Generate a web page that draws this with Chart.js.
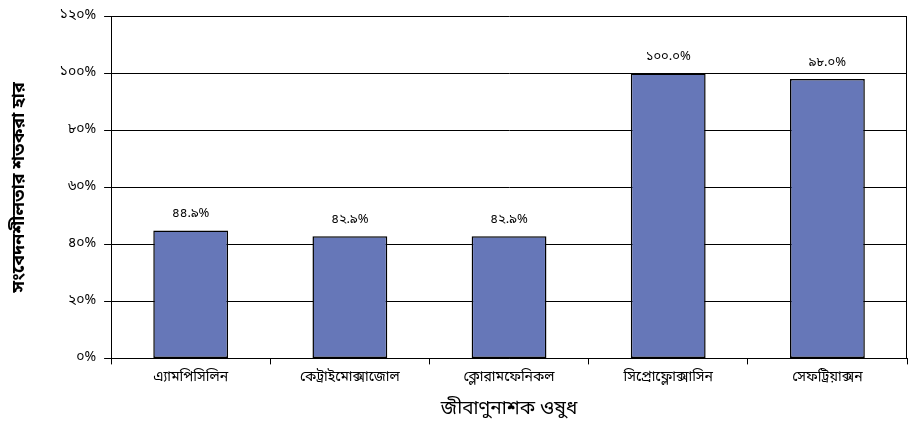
<!DOCTYPE html>
<html>
<head>
<meta charset="utf-8">
<script src="https://cdn.jsdelivr.net/npm/chart.js@4.4.0/dist/chart.umd.min.js"></script>
<style>
  html, body { margin: 0; padding: 0; background: #fff; }
  #wrap { width: 908px; height: 440px; }
</style>
</head>
<body>
<div id="wrap"><canvas id="myBarChart" width="908" height="440"></canvas></div>
<script>
const categories = [
    'এ্যামপিসিলিন',
    'কেট্রাইমোক্সাজোল',
    'ক্লোরামফেনিকল',
    'সিপ্রোফ্লোক্সাসিন',
    'সেফট্রিয়াক্সন'
];
const sensitivity = [44.9, 42.9, 42.9, 100.0, 98.0]; // শতকরা হার
const yTicks = [0, 20, 40, 60, 80, 100, 120];

const FONT = "'Noto Sans Bengali', 'Lohit Bengali', 'Noto Sans', sans-serif";
const bnDigits = ['০','১','২','৩','৪','৫','৬','৭','৮','৯'];
function toBn(str) {
    return String(str).replace(/[0-9]/g, d => bnDigits[d]);
}

// values above the bars
const valueLabels = {
    id: 'valueLabels',
    afterDatasetsDraw(chart) {
        const ctx = chart.ctx;
        const meta = chart.getDatasetMeta(0);
        ctx.save();
        ctx.font = '13px ' + FONT;
        ctx.fillStyle = '#000';
        ctx.textAlign = 'center';
        ctx.textBaseline = 'bottom';
        meta.data.forEach((bar, i) => {
            ctx.fillText(toBn(sensitivity[i].toFixed(1)) + '%', bar.x, bar.y - 9);
        });
        ctx.restore();
    }
};

const ctx = document.getElementById('myBarChart').getContext('2d');
new Chart(ctx, {
    type: 'bar',
    data: {
        labels: categories,
        datasets: [{
            data: sensitivity,
            backgroundColor: '#6677b8',
            borderColor: '#000',
            borderWidth: 1.5,
            borderSkipped: false,
            categoryPercentage: 1,
            barPercentage: 0.47
        }]
    },
    options: {
        responsive: false,
        animation: false,
        layout: { padding: { top: 4, right: 1, left: 10, bottom: 18 } },
        plugins: {
            legend: { display: false },
            tooltip: { enabled: false }
        },
        scales: {
            x: {
                grid: { offset: true, color: '#000', drawOnChartArea: false, tickLength: 6 },
                border: { color: '#000' },
                ticks: { color: '#000', font: { family: FONT, size: 14 }, padding: 6, maxRotation: 0 },
                title: {
                    display: true,
                    text: 'জীবাণুনাশক ওষুধ',
                    color: '#000',
                    font: { family: FONT, size: 19 },
                    padding: { top: 6, bottom: 0 }
                }
            },
            y: {
                min: 0,
                max: 120,
                afterBuildTicks(axis) {
                    axis.ticks = yTicks.map(v => ({ value: v }));
                },
                grid: { color: '#000', tickLength: 7 },
                border: { color: '#000' },
                ticks: {
                    color: '#000',
                    font: { family: FONT, size: 14 },
                    padding: 8,
                    callback: v => toBn(v) + '%'
                },
                title: {
                    display: true,
                    text: 'সংবেদনশীলতার শতকরা হার',
                    color: '#000',
                    font: { family: FONT, size: 18, weight: 'bold' },
                    padding: { top: 0, bottom: 20 }
                }
            }
        }
    },
    plugins: [valueLabels, {
        id: 'rightBorder',
        afterDraw(chart) {
            const a = chart.chartArea;
            const c = chart.ctx;
            c.save();
            c.strokeStyle = '#000';
            c.lineWidth = 1;
            c.beginPath();
            c.moveTo(a.right - 0.5, a.top);
            c.lineTo(a.right - 0.5, a.bottom);
            c.stroke();
            c.restore();
        }
    }]
});
</script>
</body>
</html>
